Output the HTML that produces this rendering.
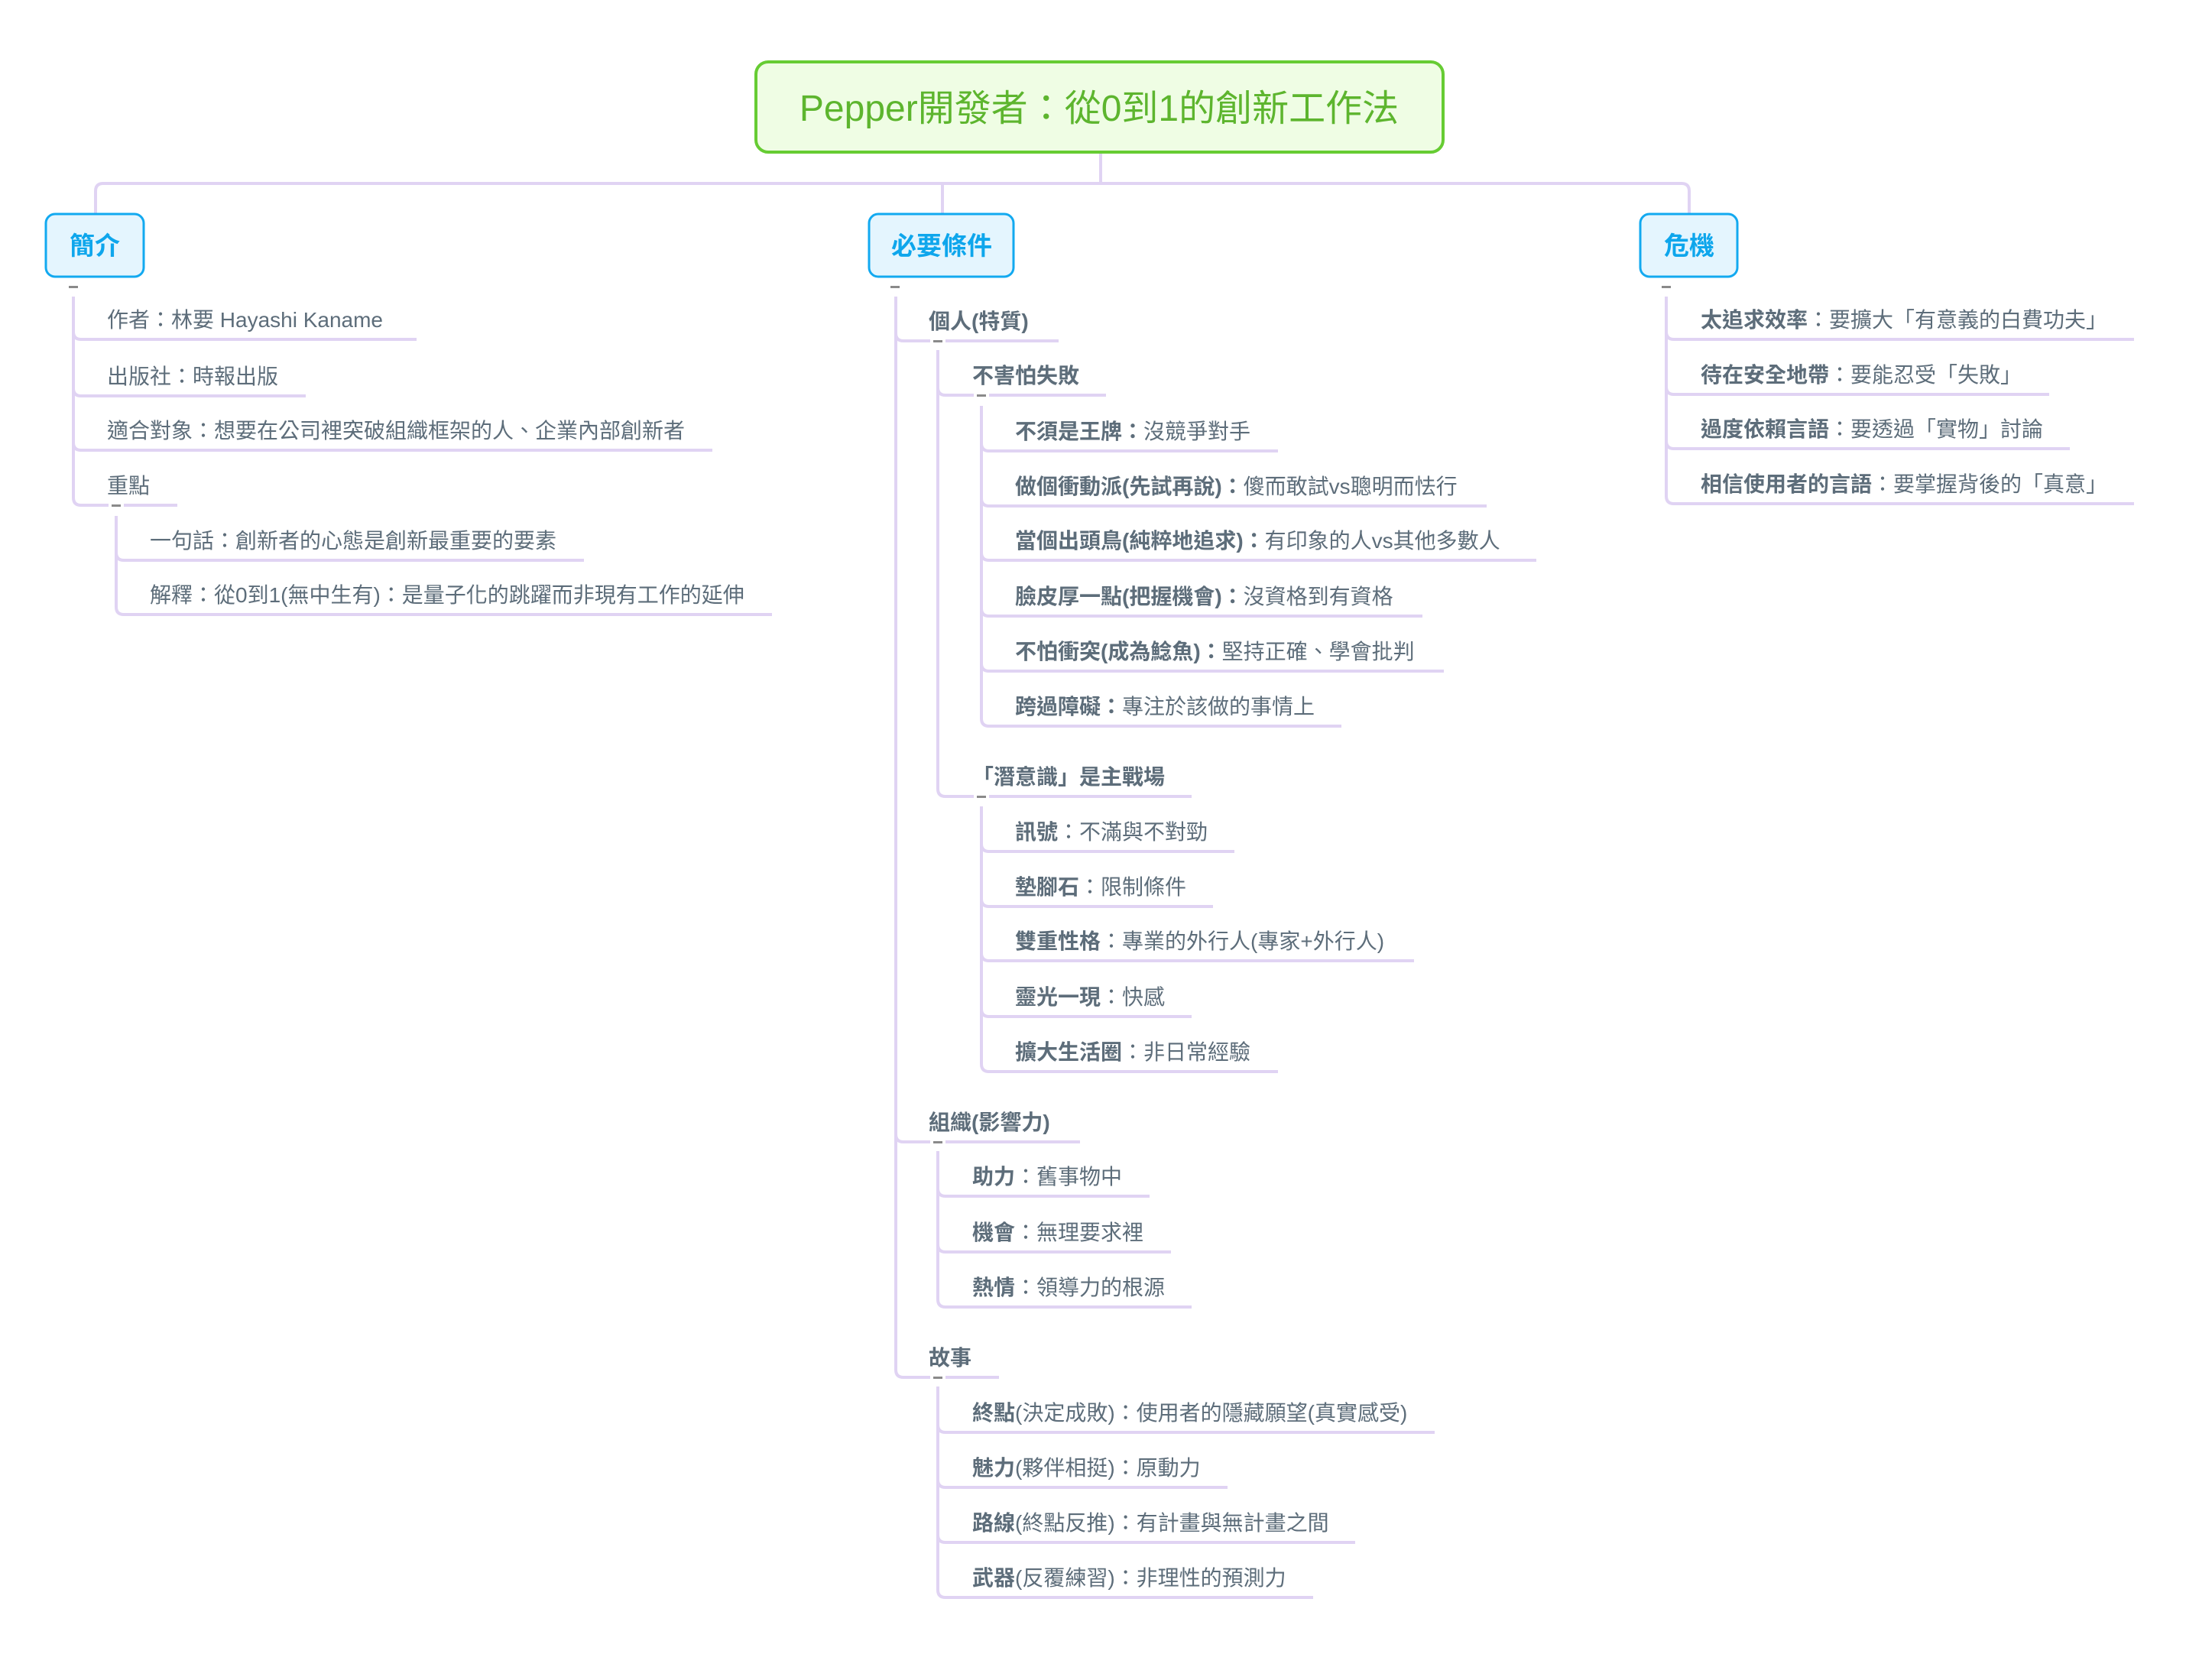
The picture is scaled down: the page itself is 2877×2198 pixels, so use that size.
<!DOCTYPE html>
<html><head><meta charset="utf-8"><style>
html,body{margin:0;padding:0;background:#fff;}
svg{display:block;}
text{font-family:"Liberation Sans","Noto Sans CJK TC",sans-serif;}
.t{font-size:28px;fill:#5d6d7a;}
.b{font-weight:bold;}
.ln{fill:none;stroke:#e0d3f3;stroke-width:4;}
</style></head><body>
<svg width="2877" height="2198" viewBox="0 0 2877 2198" xmlns="http://www.w3.org/2000/svg">
<rect width="2877" height="2198" fill="#fff"/>
<!-- top connectors -->
<path class="ln" d="M1440,200 L1440,240 M125,280 L125,250 Q125,240 135,240 L2200,240 Q2210,240 2210,250 L2210,280 M1233,240 L1233,280"/>
<!-- title -->
<rect x="989" y="81" width="899" height="118" rx="16" fill="#effde4" stroke="#66cc33" stroke-width="4"/>
<text x="1438" y="158" text-anchor="middle" style="font-size:48px;fill:#5db52e;">Pepper開發者：從0到1的創新工作法</text>
<!-- category boxes -->
<rect x="60" y="280" width="128" height="82" rx="12" fill="#e4f5fe" stroke="#12a9f0" stroke-width="3"/>
<text x="124" y="333" text-anchor="middle" class="b" style="font-size:33px;fill:#0ea6ec;">簡介</text>
<rect x="1137" y="280" width="189" height="82" rx="12" fill="#e4f5fe" stroke="#12a9f0" stroke-width="3"/>
<text x="1232" y="333" text-anchor="middle" class="b" style="font-size:33px;fill:#0ea6ec;">必要條件</text>
<rect x="2146" y="280" width="127" height="82" rx="12" fill="#e4f5fe" stroke="#12a9f0" stroke-width="3"/>
<text x="2210" y="333" text-anchor="middle" class="b" style="font-size:33px;fill:#0ea6ec;">危機</text>

<!-- branch lines -->
<g class="ln">
<!-- left -->
<path d="M96,388 L96,434 Q96,444 106,444 L545,444"/>
<path d="M96,388 L96,508 Q96,518 106,518 L400,518"/>
<path d="M96,388 L96,579 Q96,589 106,589 L932,589"/>
<path d="M96,388 L96,651 Q96,661 106,661 L232,661"/>
<path d="M152,675 L152,723 Q152,733 162,733 L764,733"/>
<path d="M152,675 L152,794 Q152,804 162,804 L1010,804"/>
<!-- middle top -->
<path d="M1172,388 L1172,436 Q1172,446 1182,446 L1385,446"/>
<path d="M1172,388 L1172,1484 Q1172,1494 1182,1494 L1413,1494"/>
<path d="M1172,388 L1172,1792 Q1172,1802 1182,1802 L1307,1802"/>
<!-- level2 under 個人 -->
<path d="M1227,458 L1227,507 Q1227,517 1237,517 L1447,517"/>
<path d="M1227,458 L1227,1032 Q1227,1042 1237,1042 L1559,1042"/>
<!-- level3 不害怕失敗 -->
<path d="M1284,531 L1284,580 Q1284,590 1294,590 L1672,590"/>
<path d="M1284,531 L1284,652 Q1284,662 1294,662 L1945,662"/>
<path d="M1284,531 L1284,723 Q1284,733 1294,733 L2010,733"/>
<path d="M1284,531 L1284,796 Q1284,806 1294,806 L1861,806"/>
<path d="M1284,531 L1284,868 Q1284,878 1294,878 L1889,878"/>
<path d="M1284,531 L1284,940 Q1284,950 1294,950 L1755,950"/>
<!-- level3 潛意識 -->
<path d="M1284,1055 L1284,1104 Q1284,1114 1294,1114 L1615,1114"/>
<path d="M1284,1055 L1284,1176 Q1284,1186 1294,1186 L1587,1186"/>
<path d="M1284,1055 L1284,1247 Q1284,1257 1294,1257 L1850,1257"/>
<path d="M1284,1055 L1284,1320 Q1284,1330 1294,1330 L1559,1330"/>
<path d="M1284,1055 L1284,1392 Q1284,1402 1294,1402 L1672,1402"/>
<!-- 組織 -->
<path d="M1227,1506 L1227,1555 Q1227,1565 1237,1565 L1504,1565"/>
<path d="M1227,1506 L1227,1628 Q1227,1638 1237,1638 L1532,1638"/>
<path d="M1227,1506 L1227,1700 Q1227,1710 1237,1710 L1559,1710"/>
<!-- 故事 -->
<path d="M1227,1814 L1227,1864 Q1227,1874 1237,1874 L1877,1874"/>
<path d="M1227,1814 L1227,1936 Q1227,1946 1237,1946 L1606,1946"/>
<path d="M1227,1814 L1227,2008 Q1227,2018 1237,2018 L1773,2018"/>
<path d="M1227,1814 L1227,2080 Q1227,2090 1237,2090 L1718,2090"/>
<!-- right -->
<path d="M2180,388 L2180,434 Q2180,444 2190,444 L2792,444"/>
<path d="M2180,388 L2180,506 Q2180,516 2190,516 L2681,516"/>
<path d="M2180,388 L2180,577 Q2180,587 2190,587 L2708,587"/>
<path d="M2180,388 L2180,649 Q2180,659 2190,659 L2792,659"/>
</g>

<!-- collapse markers -->
<g fill="#8a8a8a">
<rect x="90" y="374" width="12" height="3"/>
<rect x="1165" y="374" width="12" height="3"/>
<rect x="2174" y="374" width="12" height="3"/>
</g>
<g>
<rect x="142" y="656" width="20" height="10" fill="#fff"/><rect x="146" y="660" width="12" height="3" fill="#8a8a8a"/>
<rect x="1217" y="441" width="20" height="10" fill="#fff"/><rect x="1221" y="445" width="12" height="3" fill="#8a8a8a"/>
<rect x="1274" y="512" width="20" height="10" fill="#fff"/><rect x="1278" y="516" width="12" height="3" fill="#8a8a8a"/>
<rect x="1274" y="1037" width="20" height="10" fill="#fff"/><rect x="1278" y="1041" width="12" height="3" fill="#8a8a8a"/>
<rect x="1217" y="1489" width="20" height="10" fill="#fff"/><rect x="1221" y="1493" width="12" height="3" fill="#8a8a8a"/>
<rect x="1217" y="1797" width="20" height="10" fill="#fff"/><rect x="1221" y="1801" width="12" height="3" fill="#8a8a8a"/>
</g>

<!-- left texts -->
<text class="t" x="140" y="428">作者：林要 Hayashi Kaname</text>
<text class="t" x="140" y="502">出版社：時報出版</text>
<text class="t" x="140" y="573">適合對象：想要在公司裡突破組織框架的人、企業內部創新者</text>
<text class="t" x="140" y="645">重點</text>
<text class="t" x="196" y="717">一句話：創新者的心態是創新最重要的要素</text>
<text class="t" x="196" y="788">解釋：從0到1(無中生有)：是量子化的跳躍而非現有工作的延伸</text>

<!-- middle texts -->
<text class="t b" x="1215" y="430">個人(特質)</text>
<text class="t b" x="1272" y="501">不害怕失敗</text>
<text class="t" x="1328" y="574"><tspan class="b">不須是王牌：</tspan>沒競爭對手</text>
<text class="t" x="1328" y="646"><tspan class="b">做個衝動派(先試再說)：</tspan>傻而敢試vs聰明而怯行</text>
<text class="t" x="1328" y="717"><tspan class="b">當個出頭鳥(純粹地追求)：</tspan>有印象的人vs其他多數人</text>
<text class="t" x="1328" y="790"><tspan class="b">臉皮厚一點(把握機會)：</tspan>沒資格到有資格</text>
<text class="t" x="1328" y="862"><tspan class="b">不怕衝突(成為鯰魚)：</tspan>堅持正確、學會批判</text>
<text class="t" x="1328" y="934"><tspan class="b">跨過障礙：</tspan>專注於該做的事情上</text>
<text class="t b" x="1272" y="1026">「潛意識」是主戰場</text>
<text class="t" x="1328" y="1098"><tspan class="b">訊號</tspan>：不滿與不對勁</text>
<text class="t" x="1328" y="1170"><tspan class="b">墊腳石</tspan>：限制條件</text>
<text class="t" x="1328" y="1241"><tspan class="b">雙重性格</tspan>：專業的外行人(專家+外行人)</text>
<text class="t" x="1328" y="1314"><tspan class="b">靈光一現</tspan>：快感</text>
<text class="t" x="1328" y="1386"><tspan class="b">擴大生活圈</tspan>：非日常經驗</text>
<text class="t b" x="1215" y="1478">組織(影響力)</text>
<text class="t" x="1272" y="1549"><tspan class="b">助力</tspan>：舊事物中</text>
<text class="t" x="1272" y="1622"><tspan class="b">機會</tspan>：無理要求裡</text>
<text class="t" x="1272" y="1694"><tspan class="b">熱情</tspan>：領導力的根源</text>
<text class="t b" x="1215" y="1786">故事</text>
<text class="t" x="1272" y="1858"><tspan class="b">終點</tspan>(決定成敗)：使用者的隱藏願望(真實感受)</text>
<text class="t" x="1272" y="1930"><tspan class="b">魅力</tspan>(夥伴相挺)：原動力</text>
<text class="t" x="1272" y="2002"><tspan class="b">路線</tspan>(終點反推)：有計畫與無計畫之間</text>
<text class="t" x="1272" y="2074"><tspan class="b">武器</tspan>(反覆練習)：非理性的預測力</text>

<!-- right texts -->
<text class="t" x="2225" y="428"><tspan class="b">太追求效率</tspan>：要擴大「有意義的白費功夫」</text>
<text class="t" x="2225" y="500"><tspan class="b">待在安全地帶</tspan>：要能忍受「失敗」</text>
<text class="t" x="2225" y="571"><tspan class="b">過度依賴言語</tspan>：要透過「實物」討論</text>
<text class="t" x="2225" y="643"><tspan class="b">相信使用者的言語</tspan>：要掌握背後的「真意」</text>
</svg>
</body></html>
